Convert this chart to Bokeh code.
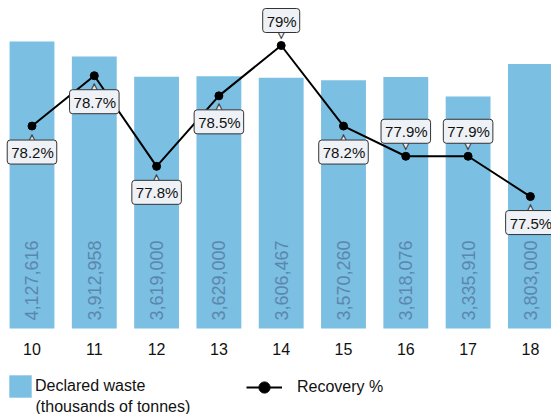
import math
from bokeh.plotting import figure
from bokeh.models import (Range1d, FixedTicker, Legend, LegendItem, ColumnDataSource,
                          LinearAxis, Label)
from bokeh.embed import file_html
from bokeh.resources import INLINE
from bokeh.core.properties import value

# ---- data ----
years = [10, 11, 12, 13, 14, 15, 16, 17, 18]
waste = [4127616, 3912958, 3619000, 3629000, 3606467, 3570260, 3618076, 3335910, 3803000]
recovery = [78.2, 78.7, 77.8, 78.5, 79.0, 78.2, 77.9, 77.9, 77.5]
callout_side = ["below", "below", "below", "below", "above", "below", "above", "above", "below"]
bar_label = "Declared waste"
bar_label_2 = "(thousands of tonnes)"
line_label = "Recovery %"

FONT_NAME = "Liberation Sans"
FONT = value(FONT_NAME)
BAR = "#7bbfe2"
TXT = "#111111"

p = figure(width=551, height=414,
           x_range=Range1d(9.4944, 18.3387), y_range=Range1d(-1236876, 4717388),
           output_backend="svg", toolbar_location=None,
           x_axis_location=None, y_axis_location=None, min_border=0)
p.extra_y_ranges = {"pct": Range1d(75.3356, 79.4469)}
p.outline_line_color = None
p.grid.visible = False
p.background_fill_color = "white"
p.border_fill_color = "white"

bars = p.vbar(x=years, top=waste, width=0.72, fill_color=BAR, line_color=None)

bar_src = ColumnDataSource(dict(x=years, y=[0] * len(years), t=[f"{v:,}" for v in waste]))
p.text(x="x", y="y", text="t", source=bar_src, angle=math.pi / 2,
       text_align="left", text_baseline="middle", y_offset=-8,
       text_font=FONT, text_font_size="18px", text_color="#5b86ad")

line = p.line(years, recovery, y_range_name="pct", line_color="black", line_width=2)
dots = p.scatter(years, recovery, y_range_name="pct", size=8, fill_color="black", line_color="black")

lab_src = ColumnDataSource(dict(
    x=years, y=recovery,
    t=[f"{v:g}%" for v in recovery],
    yoff=[26 if s == "below" else -25 for s in callout_side],
    poff=[12 if s == "below" else -12 for s in callout_side],
    ptr=["\u25B2" if s == "below" else "\u25BC" for s in callout_side],
))
p.text(x="x", y="y", text="ptr", source=lab_src, y_range_name="pct", y_offset="poff",
       text_align="center", text_baseline="middle", text_font=value("DejaVu Sans"),
       text_font_size="11px", text_color="#eef2f6", text_outline_color="#333333")
p.text(x="x", y="y", text="t", source=lab_src, y_range_name="pct", y_offset="yoff",
       text_align="center", text_baseline="middle", text_font=FONT, text_font_size="15px",
       text_color=TXT, background_fill_color="#eef2f6", border_line_color="#333333",
       border_line_width=1, padding=(4, 3, 4, 3), border_radius=3)

ax = LinearAxis(fixed_location=0, ticker=FixedTicker(ticks=years))
ax.axis_line_color = None
ax.major_tick_line_color = None
ax.minor_tick_line_color = None
ax.major_label_standoff = 8
ax.major_label_text_font = FONT_NAME
ax.major_label_text_font_size = "16px"
ax.major_label_text_color = TXT
p.add_layout(ax, "below")

common = dict(orientation="horizontal", margin=0, padding=0, glyph_height=28,
              label_text_font=FONT_NAME, label_text_font_size="16px", label_text_color=TXT,
              border_line_color=None, background_fill_alpha=0)
leg_bar = Legend(items=[LegendItem(label=bar_label, renderers=[bars])],
                 location=(6, 14), glyph_width=28, label_standoff=1, **common)
leg_line = Legend(items=[LegendItem(label=line_label, renderers=[line, dots])],
                  location=(246, 13), glyph_width=36, label_standoff=15, **common)
p.add_layout(leg_bar)
p.add_layout(leg_line)
p.add_layout(Label(x=35, y=8, x_units="screen", y_units="screen", text=bar_label_2,
                   text_font=FONT_NAME, text_font_size="16px", text_color=TXT,
                   text_baseline="middle"))

open("out.html", "w").write(file_html(p, INLINE))
